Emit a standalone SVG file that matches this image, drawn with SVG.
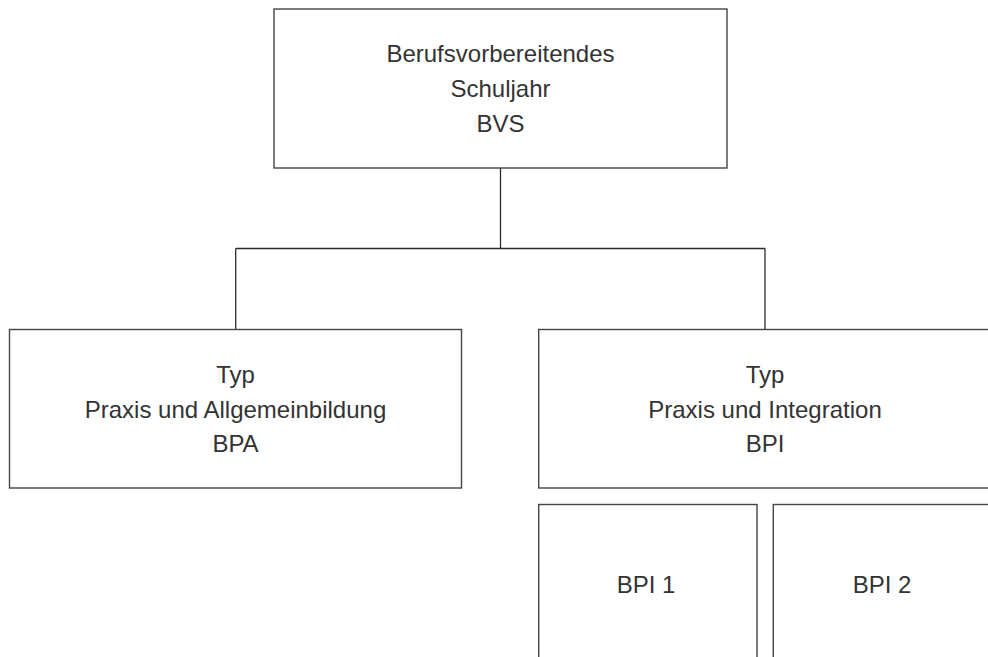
<svg xmlns="http://www.w3.org/2000/svg" width="988" height="657" viewBox="0 0 988 657">
  <style>
    .box { fill: #ffffff; stroke: #444444; stroke-width: 1.4; }
    .conn { fill: none; stroke: #2a2a2a; stroke-width: 1.3; }
    .lbl { font-family: "Liberation Sans", Arial, sans-serif; font-size: 24px; fill: #333333; text-anchor: middle; }
  </style>
  <rect x="0" y="0" width="988" height="657" fill="#ffffff"/>
  <g id="connectors">
    <path class="conn" d="M500.5 168 V248.5"/>
    <path class="conn" d="M235.7 248.5 H765"/>
    <path class="conn" d="M235.7 248.5 V329.5"/>
    <path class="conn" d="M765 248.5 V329.5"/>
  </g>
  <g id="bvs">
    <rect class="box" x="274" y="9" width="453" height="159"/>
    <text class="lbl" x="500.5" y="62">Berufsvorbereitendes</text>
    <text class="lbl" x="500.5" y="97">Schuljahr</text>
    <text class="lbl" x="500.5" y="132">BVS</text>
  </g>
  <g id="bpa">
    <rect class="box" x="9.5" y="329.5" width="452" height="158.5"/>
    <text class="lbl" x="235.5" y="383">Typ</text>
    <text class="lbl" x="235.5" y="417.5">Praxis und Allgemeinbildung</text>
    <text class="lbl" x="235.5" y="452">BPA</text>
  </g>
  <g id="bpi">
    <rect class="box" x="538.7" y="329.5" width="460" height="158.5"/>
    <text class="lbl" x="765" y="383">Typ</text>
    <text class="lbl" x="765" y="417.5">Praxis und Integration</text>
    <text class="lbl" x="765" y="452">BPI</text>
  </g>
  <g id="bpi1">
    <rect class="box" x="538.7" y="504.5" width="218.3" height="170"/>
    <text class="lbl" x="646" y="593">BPI 1</text>
  </g>
  <g id="bpi2">
    <rect class="box" x="773.3" y="504.5" width="230" height="170"/>
    <text class="lbl" x="882" y="593">BPI 2</text>
  </g>
</svg>
